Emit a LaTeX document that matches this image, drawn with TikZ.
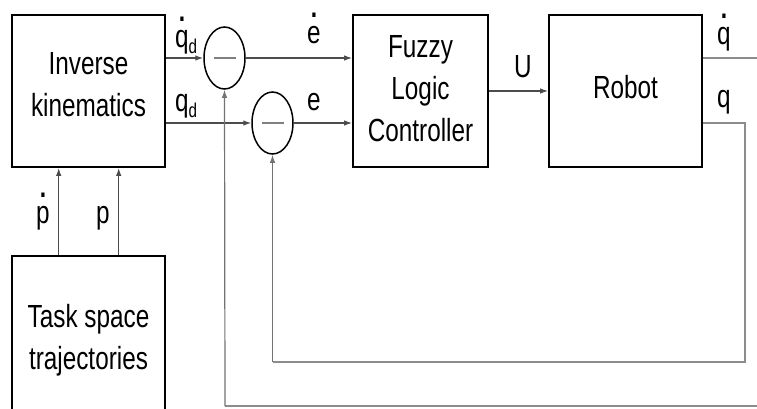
\documentclass[tikz,border=0pt]{standalone}
\usepackage{fontspec}
\setmainfont{Liberation Sans}[FakeStretch=0.76]
\usetikzlibrary{arrows.meta,shapes.geometric}
\newcommand{\subd}{\raisebox{-6pt}{\fontsize{20}{20}\selectfont d}}
\newcommand{\dotover}[1]{\sbox0{#1}\makebox[0pt][l]{\makebox[\wd0]{\smash{\raisebox{26pt}{\fontsize{30}{30}\selectfont\bfseries .}}}}#1}
\begin{document}
\begin{tikzpicture}[x=1pt,y=-1pt,
  blk/.style={draw=black,line width=1.8pt,minimum width=153pt,minimum height=152pt,inner sep=0pt},
  txt/.style={align=center,inner sep=0pt,font=\fontsize{32}{42}\selectfont},
  sumj/.style={draw=black,line width=1.5pt,ellipse,minimum width=41pt,minimum height=62pt,inner sep=0pt},
  conn/.style={draw=black!70,line width=1.2pt,-{Latex[length=8pt,width=5.5pt]}},
  fb/.style={draw=black!45,line width=1.3pt},
  lbl/.style={font=\fontsize{32}{36}\selectfont,inner sep=0pt}]
\useasboundingbox (0,0) rectangle (757,408);
\clip (0,0) rectangle (757,408);
\fill[white] (0,0) rectangle (757,408);

\node[blk] (ik) at (88.5,91) {};
\node[blk,minimum height=164pt] (ts) at (88.5,338) {};
\node[blk,minimum width=135pt] (flc) at (420.5,91) {};
\node[blk] (rob) at (625.5,91) {};
\node[txt] (tik) at (88.5,85) {Inverse\\kinematics};
\node[txt] (tts) at (88.5,340) {Task space\\trajectories};
\node[txt] (tflc) at (420.5,89) {Fuzzy\\Logic\\Controller};
\node[txt] (trob) at (625.5,87) {Robot};

\node[sumj] (s1) at (224.5,58) {};
\node[sumj] (s2) at (272.5,123) {};
\draw[black!50,line width=1.2pt] ([xshift=-11pt]s1.center) -- ([xshift=11pt]s1.center);
\draw[black!50,line width=1.2pt] ([xshift=-11pt]s2.center) -- ([xshift=11pt]s2.center);

% forward paths
\draw[conn] (ik.east |- s1.west) -- (s1.west);
\draw[conn] (ik.east |- s2.west) -- (s2.west);
\draw[conn] (s1.east) -- (flc.west |- s1.east);
\draw[conn] (s2.east) -- (flc.west |- s2.east);
\draw[conn] (flc.east) -- (rob.west);

% task space to inverse kinematics
\draw[conn] (ts.north -| 58.7,0) -- (ik.south -| 58.7,0);
\draw[conn] (ts.north -| 118.7,0) -- (ik.south -| 118.7,0);

% feedback paths
\coordinate (o1) at (770,58);
\coordinate (o2) at (770,406);
\coordinate (o3) at (225,406);
\draw[fb] (rob.east |- o1) -- (o1) -- (o2) -- (o3);
\draw[conn,draw=black!55] (o3) -- (s1.south);
\coordinate (i1) at (745,123);
\coordinate (i2) at (745,362);
\coordinate (i3) at (272.5,362);
\draw[fb] (rob.east |- i1) -- (i1) -- (i2) -- (i3);
\draw[conn,draw=black!55] (i3) -- (s2.south);

% labels
\node[lbl,anchor=base west] (lqdd) at (175,47) {\dotover{q}\subd};
\node[lbl,anchor=base west] (lqd) at (175,111) {q\subd};
\node[lbl,anchor=base] (led) at (314,43) {\dotover{e}};
\node[lbl,anchor=base] (le) at (314,110) {e};
\node[lbl,anchor=base] (lu) at (523,77) {U};
\node[lbl,anchor=base] (lqdot) at (724,44) {\dotover{q}};
\node[lbl,anchor=base] (lq) at (724,107) {q};
\node[lbl,anchor=base] (lpd) at (43,223) {\dotover{p}};
\node[lbl,anchor=base] (lp) at (103,223) {p};
\end{tikzpicture}
\end{document}
